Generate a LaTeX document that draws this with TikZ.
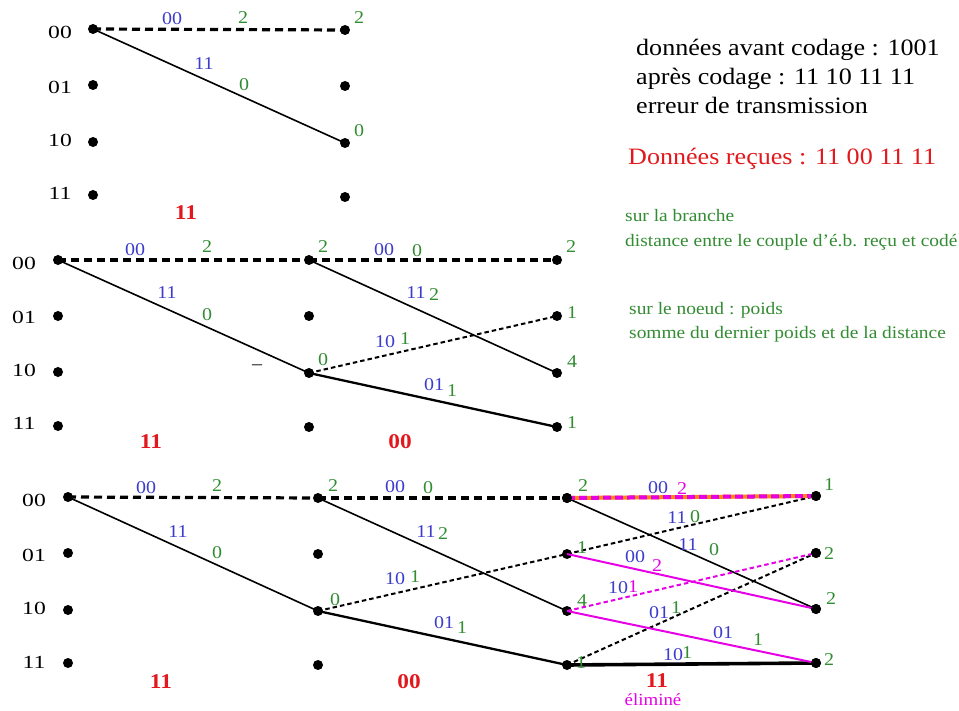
\documentclass[tikz,border=0pt]{standalone}
\usepackage{fontspec}
\setmainfont{Liberation Serif}[FakeStretch=1.11]
\definecolor{cblue}{RGB}{60,60,205}
\definecolor{cgreen}{RGB}{50,140,50}
\definecolor{cred}{RGB}{225,25,30}
\definecolor{cmag}{RGB}{230,0,230}
\definecolor{corange}{RGB}{255,140,0}
\newcommand{\wst}[1]{\scalebox{1.15}[1]{#1}}
\tikzset{
  dot/.style={circle, fill=black, inner sep=0pt, minimum size=10pt},
  stlab/.style={inner sep=0pt, font=\fontsize{18.5}{18.5}\selectfont},
  bl/.style={inner sep=0pt, text=cblue, font=\fontsize{18}{18}\selectfont},
  gr/.style={inner sep=0pt, text=cgreen, font=\fontsize{18}{18}\selectfont},
  mg/.style={inner sep=0pt, text=cmag, font=\fontsize{18}{18}\selectfont},
  rd/.style={inner sep=0pt, text=cred, font=\fontsize{21}{21}\selectfont\bfseries},
  thickdash/.style={line width=3.2pt, dash pattern=on 8pt off 5pt},
  thinline/.style={line width=1.6pt},
  lightdash/.style={line width=2pt, dash pattern=on 4.5pt off 3pt},
  medline/.style={line width=2.3pt},
  boldline/.style={line width=3.6pt},
  txt/.style={inner sep=0pt, anchor=base west, font=\fontsize{23.5}{23.5}\selectfont},
  gtxt/.style={inner sep=0pt, anchor=base west, text=cgreen, font=\fontsize{17.5}{17.5}\selectfont},
}
\begin{document}
\begin{tikzpicture}[x=1pt, y=-1pt]
\useasboundingbox (0,0) rectangle (959,711);

% ---------- top trellis ----------
\node[dot] (a10) at (93,29) {};
\node[dot] (a11) at (93,85) {};
\node[dot] (a12) at (93,142) {};
\node[dot] (a13) at (93,195) {};
\node[dot] (a20) at (345,30) {};
\node[dot] (a21) at (345,86) {};
\node[dot] (a22) at (345,143) {};
\node[dot] (a23) at (345,197) {};
\node[stlab] (as0) at (60,32) {\wst{00}};
\node[stlab] (as1) at (60,87) {\wst{01}};
\node[stlab] (as2) at (60,140) {\wst{10}};
\node[stlab] (as3) at (60,193) {\wst{11}};
\draw[thickdash] (a10.center) -- (a20.center);
\draw[thinline] (a10.center) -- (a22.center);
\node[bl] (al1) at (172,19) {00};
\node[gr] (al2) at (243,18) {2};
\node[gr] (al3) at (359,18) {2};
\node[bl] (al4) at (204,64) {11};
\node[gr] (al5) at (244,85) {0};
\node[gr] (al6) at (359,131) {0};
\node[rd] (ar) at (186,213) {11};

% ---------- middle trellis ----------
\node[dot] (b10) at (58,260) {};
\node[dot] (b11) at (58,316) {};
\node[dot] (b12) at (58,372) {};
\node[dot] (b13) at (58,426) {};
\node[dot] (b20) at (309,260) {};
\node[dot] (b21) at (309,316) {};
\node[dot] (b22) at (309,373) {};
\node[dot] (b23) at (309,427) {};
\node[dot] (b30) at (557,260) {};
\node[dot] (b31) at (557,316) {};
\node[dot] (b32) at (557,373) {};
\node[dot] (b33) at (557,427) {};
\node[stlab] (bs0) at (24,263) {\wst{00}};
\node[stlab] (bs1) at (24,317) {\wst{01}};
\node[stlab] (bs2) at (24,370) {\wst{10}};
\node[stlab] (bs3) at (24,423) {\wst{11}};
\draw[thickdash] (b10.center) -- (b20.center);
\draw[thinline] (b10.center) -- (b22.center);
\draw[thickdash] (b20.center) -- (b30.center);
\draw[thinline] (b20.center) -- (b32.center);
\draw[lightdash] (b22.center) -- (b31.center);
\draw[medline] (b22.center) -- (b33.center);
\node[bl] (bl1) at (135,250) {00};
\node[gr] (bl2) at (207,247) {2};
\node[bl] (bl3) at (167,293) {11};
\node[gr] (bl4) at (207,315) {0};
\node (bl5) at (257,367) [inner sep=0pt, font=\fontsize{18}{18}\selectfont] {--};
\node[rd] (br1) at (151,442) {11};
\node[gr] (bl6) at (323,247) {2};
\node[bl] (bl7) at (384,250) {00};
\node[gr] (bl8) at (417,251) {0};
\node[gr] (bl9) at (571,247) {2};
\node[bl] (bl10) at (416,293) {11};
\node[gr] (bl11) at (434,295) {2};
\node[gr] (bl12) at (572,313) {1};
\node[bl] (bl13) at (385,342) {10};
\node[gr] (bl14) at (405,339) {1};
\node[gr] (bl15) at (323,360) {0};
\node[gr] (bl16) at (572,362) {4};
\node[bl] (bl17) at (434,385) {01};
\node[gr] (bl18) at (452,391) {1};
\node[gr] (bl19) at (572,423) {1};
\node[rd] (br2) at (400,442) {00};

% ---------- bottom trellis ----------
\node[dot] (c10) at (68,497) {};
\node[dot] (c11) at (68,553) {};
\node[dot] (c12) at (68,610) {};
\node[dot] (c13) at (68,663) {};
\node[dot] (c20) at (318,498) {};
\node[dot] (c21) at (318,554) {};
\node[dot] (c22) at (318,611) {};
\node[dot] (c23) at (318,665) {};
\node[dot] (c30) at (567,498) {};
\node[dot] (c31) at (567,554) {};
\node[dot] (c32) at (567,611) {};
\node[dot] (c33) at (567,665) {};
\node[dot] (c40) at (816,496) {};
\node[dot] (c41) at (816,553) {};
\node[dot] (c42) at (816,609) {};
\node[dot] (c43) at (816,663) {};
\node[stlab] (cs0) at (34,500) {\wst{00}};
\node[stlab] (cs1) at (34,555) {\wst{01}};
\node[stlab] (cs2) at (34,608) {\wst{10}};
\node[stlab] (cs3) at (34,662) {\wst{11}};
\draw[thickdash] (c10.center) -- (c20.center);
\draw[thinline] (c10.center) -- (c22.center);
\draw[thickdash] (c20.center) -- (c30.center);
\draw[thinline] (c20.center) -- (c32.center);
\draw[lightdash] (c22.center) -- (c31.center);
\draw[medline] (c22.center) -- (c33.center);
% stage 3
\draw[thinline] (c30.center) -- (c42.center);
\draw[lightdash] (c31.center) -- (c40.center);
\draw[lightdash] (c33.center) -- (c41.center);
\draw[boldline] (c33.center) -- (c43.center);
\draw[cmag, line width=2pt] (c31.center) -- (c42.center);
\draw[lightdash, cmag] (c32.center) -- (c41.center);
\draw[cmag, line width=2pt] (c32.center) -- (c43.center);
\draw[line width=4pt, corange] (c30.center) -- (c40.center);
\draw[line width=4pt, cmag, dash pattern=on 8pt off 4pt] (c30.center) -- (c40.center);
\node[dot] (c30b) at (c30) {};
\node[dot] (c40b) at (c40) {};
\node[dot] (c41b) at (c41) {};
\node[dot] (c42b) at (c42) {};
\node[dot] (c43b) at (c43) {};
\node[bl] (cl1) at (146,488) {00};
\node[gr] (cl2) at (217,486) {2};
\node[bl] (cl3) at (178,532) {11};
\node[gr] (cl4) at (217,553) {0};
\node[rd] (cr1) at (161,682) {11};
\node[gr] (cl5) at (333,486) {2};
\node[bl] (cl6) at (395,487) {00};
\node[gr] (cl7) at (428,488) {0};
\node[bl] (cl8) at (426,532) {11};
\node[gr] (cl9) at (443,534) {2};
\node[bl] (cl10) at (395,579) {10};
\node[gr] (cl11) at (415,577) {1};
\node[gr] (cl12) at (335,600) {0};
\node[bl] (cl13) at (444,623) {01};
\node[gr] (cl14) at (462,628) {1};
\node[rd] (cr2) at (409,682) {00};
\node[gr] (cl15) at (583,486) {2};
\node[bl] (cl16) at (658,488) {00};
\node[mg] (cl17) at (682,489) {2};
\node[bl] (cl18) at (677,518) {11};
\node[gr] (cl19) at (695,517) {0};
\node[gr] (cl20) at (582,548) {1};
\node[bl] (cl21) at (688,545) {11};
\node[gr] (cl22) at (714,550) {0};
\node[bl] (cl23) at (635,557) {00};
\node[mg] (cl24) at (657,566) {2};
\node[bl] (cl25) at (618,588) {10};
\node[mg] (cl26) at (633,587) {1};
\node[gr] (cl27) at (582,601) {4};
\node[bl] (cl28) at (659,613) {01};
\node[gr] (cl29) at (676,608) {1};
\node[bl] (cl30) at (723,633) {01};
\node[gr] (cl31) at (758,640) {1};
\node[bl] (cl32) at (673,655) {10};
\node[gr] (cl33) at (687,653) {1};
\node[gr] (cl34) at (581,663) {1};
\node[rd] (cr3) at (657,681) {11};
\node[mg, font=\fontsize{17}{17}\selectfont] (celim) at (653,700) {éliminé};
\node[gr] (cl35) at (829,485) {1};
\node[gr] (cl36) at (829,554) {2};
\node[gr] (cl37) at (831,599) {2};
\node[gr] (cl38) at (829,660) {2};

% ---------- texts ----------
\node[txt] (t1) at (636,56) {données avant codage : 1001};
\node[txt] (t2) at (636,85) {après codage : 11 10 11 11};
\node[txt] (t3) at (636,114) {erreur de transmission};
\node[txt, text=cred] (t4) at (628,165) {Données reçues : 11 00 11 11};
\node[gtxt] (g1) at (625,222) {sur la branche};
\node[gtxt] (g2) at (625,247) {distance entre le couple d'é.b. reçu et codé};
\node[gtxt] (g3) at (629,315) {sur le noeud : poids};
\node[gtxt] (g4) at (629,339) {somme du dernier poids et de la distance};
\end{tikzpicture}
\end{document}
